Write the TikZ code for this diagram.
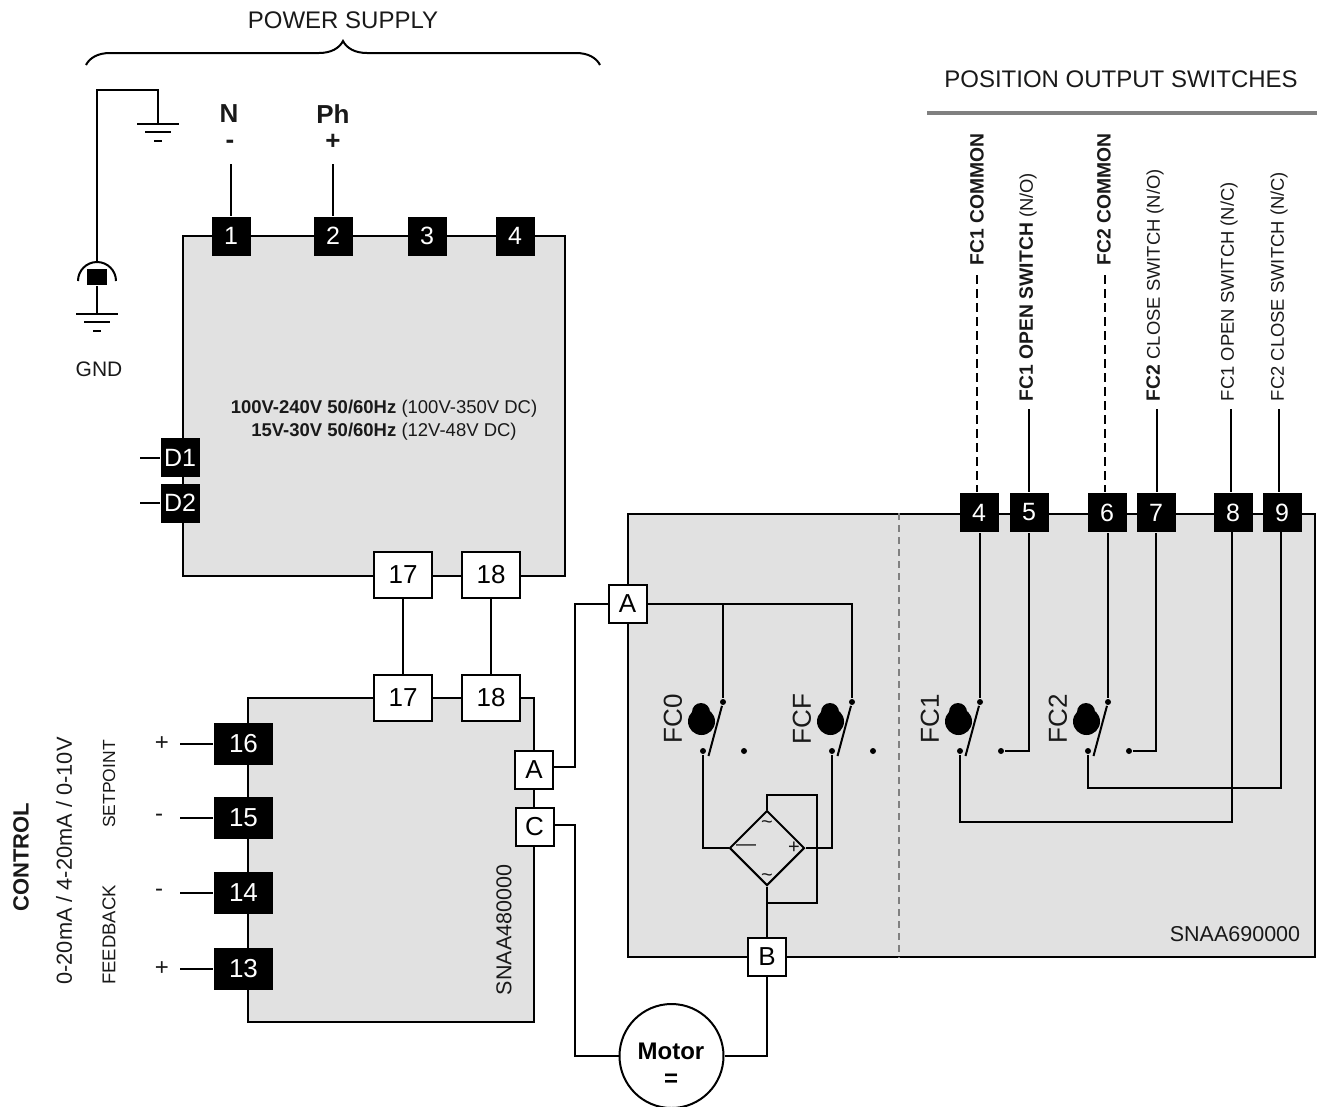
\documentclass[tikz,border=0pt]{standalone}
\usepackage{fontspec}
\setmainfont{Liberation Sans}
\usetikzlibrary{shapes.geometric, decorations.pathreplacing}
\definecolor{panelgray}{HTML}{E1E1E1}
\definecolor{rulegray}{HTML}{808080}
\newcommand{\sz}[1]{\fontsize{#1}{#1}\selectfont}
\newcommand{\boldpart}[1]{{\sz{19.3}\bfseries #1}}

\begin{document}
\begin{tikzpicture}[
    x=1pt, y=-1pt,
    line width=2pt,
    panel/.style={rectangle, draw, fill=panelgray},
    blackterm/.style={rectangle, fill=black, text=white, inner sep=0pt, minimum size=39pt, font=\sz{25}},
    wideterm/.style={rectangle, fill=black, text=white, inner sep=0pt, minimum width=59pt, minimum height=42pt, font=\sz{26}},
    whiteterm/.style={rectangle, draw, fill=white, inner sep=0pt, minimum width=58pt, minimum height=46pt, font=\sz{26}},
    letterterm/.style={rectangle, draw, fill=white, inner sep=0pt, minimum size=38pt, font=\sz{26}},
    contact/.style={circle, fill=black, inner sep=0pt, minimum size=6pt},
    txt/.style={inner sep=0pt, text=black!90, font=\sz{#1}},
    side/.style={inner sep=0pt, rotate=90, anchor=west, text=black!90, font=\sz{18.4}},
    upright/.style={inner sep=0pt, rotate=90, text=black!90, font=\sz{#1}},
    bar/.style={line width=2pt}
]
    \useasboundingbox (0,0) rectangle (1317,1106);

    % Grey panels
    \node[panel, minimum width=382pt, minimum height=340pt, inner sep=0pt] (supply) at (374,406) {};
    \node[panel, minimum width=286pt, minimum height=324pt, inner sep=0pt] (drive) at (391,860) {};
    \node[panel, minimum width=687pt, minimum height=443pt, inner sep=0pt] (limits) at (971.5,735.5) {};
    \draw[rulegray, dash pattern=on 7pt off 5pt] (limits.north -| 899,0) -- (limits.south -| 899,0);

    % Power supply brace and titles
    \coordinate (braceL) at (86,65);
    \coordinate (braceR) at (600,65);
    \draw[decorate, decoration={brace, amplitude=24pt}] (braceL) -- (braceR);
    \node[txt=24] (powertitle) at (343,20) {POWER SUPPLY};
    \node[txt=24] (switchtitle) at (1121,79) {POSITION OUTPUT SWITCHES};
    \coordinate (ruleL) at (927,113);
    \coordinate (ruleR) at (1317,113);
    \draw[rulegray, line width=4pt] (ruleL) -- (ruleR);

    % Earth and plug
    \coordinate (plug) at (97,262);
    \coordinate (earthA) at (158,124);
    \coordinate (earthB) at (97,314);
    \draw (plug) -- (97,90) -| (earthA);
    \draw (78,281) arc[start angle=180, end angle=0, radius=19pt];
    \node[rectangle, fill=black, inner sep=0pt, minimum width=20pt, minimum height=16pt] (plugpin) at (97,277) {};
    \draw (plugpin.south) -- (earthB);
    \foreach \ex/\ey in {158/124, 97/314} {
        \draw[bar] (\ex-21,\ey) -- (\ex+21,\ey);
        \draw[bar] (\ex-13,\ey+8) -- (\ex+13,\ey+8);
        \draw[bar] (\ex-4,\ey+17) -- (\ex+4,\ey+17);
    }
    \node[txt=21] (gnd) at (99,369) {GND};

    % Supply terminals
    \foreach \n/\x in {1/231, 2/333, 3/427, 4/515} {
        \node[blackterm] (s\n) at (\x,236) {\n};
    }
    \node[blackterm] (d1) at (180,457.5) {D1};
    \node[blackterm] (d2) at (180,503) {D2};
    \node[whiteterm] (a17) at (403,575) {17};
    \node[whiteterm] (a18) at (491,575) {18};

    % Mains labels
    \node[txt=26, font=\sz{26}\bfseries] (neutral) at (229,114) {N};
    \node[txt=26, font=\sz{26}\bfseries] (phase) at (333,114) {Ph};
    \node[txt=26, font=\sz{26}\bfseries] (minus) at (230,144) {-};
    \node[txt=26, font=\sz{26}\bfseries] (plus) at (333,142) {+};
    \coordinate (nEnd) at (231,164);
    \coordinate (phEnd) at (333,164);
    \draw (nEnd) -- (s1.north);
    \draw (phEnd) -- (s2.north);
    \coordinate (d1End) at (140,457.5);
    \coordinate (d2End) at (140,503);
    \draw (d1End) -- (d1.west);
    \draw (d2End) -- (d2.west);

    \node[inner sep=0pt, align=center, text=black!90, font=\fontsize{18.5}{23}\selectfont] (rating) at (384,420)
        {\textbf{100V-240V 50/60Hz} (100V-350V DC)\\\textbf{15V-30V 50/60Hz} (12V-48V DC)};

    % Control terminals
    \node[whiteterm] (b17) at (403,698) {17};
    \node[whiteterm] (b18) at (491,698) {18};
    \draw (a17.south) -- (b17.north);
    \draw (a18.south) -- (b18.north);
    \foreach \n/\y/\sign/\sx in {16/744/+/162, 15/818/-/159, 14/893/-/159, 13/969/+/162} {
        \node[wideterm] (c\n) at (243.5,\y) {\n};
        \node[txt=24] (sign\n) at (\sx,\y) {\sign};
        \coordinate (lead\n) at (180,\y);
        \draw (lead\n) -- (c\n.west);
    }
    \node[letterterm] (pa) at (534,770) {A};
    \node[letterterm] (pc) at (534.5,827) {C};
    \node[letterterm] (qa) at (627.5,603.5) {A};
    \node[letterterm] (qb) at (767,957) {B};
    \draw (pa.east |- 0,767) -- (575,767) |- (qa.west);

    % Control side labels
    \node[upright=22, font=\sz{22}\bfseries] (control) at (21,857) {CONTROL};
    \node[upright=21.8] (range) at (64,861) {0-20mA / 4-20mA / 0-10V};
    \node[upright=17.5] (setpoint) at (109,784) {SETPOINT};
    \node[upright=18.5] (feedback) at (109,935) {FEEDBACK};
    \node[upright=21.5] (drivecode) at (504,930) {SNAA480000};
    \node[txt=21.5] (limitcode) at (1235,934) {SNAA690000};

    % Output terminals
    \foreach \n/\x in {4/979, 5/1029, 6/1107, 7/1156, 8/1233, 9/1282} {
        \node[blackterm] (r\n) at (\x,512.5) {\n};
    }
    \node[side] (out4) at (977,266) {\boldpart{FC1 COMMON}};
    \node[side] (out5) at (1028,402) {\boldpart{FC1 OPEN SWITCH} (N/O)};
    \node[side] (out6) at (1104,266) {\boldpart{FC2 COMMON}};
    \node[side] (out7) at (1155,402) {\boldpart{FC2} CLOSE SWITCH (N/O)};
    \node[side] (out8) at (1229,402) {FC1 OPEN SWITCH (N/C)};
    \node[side] (out9) at (1279,402) {FC2 CLOSE SWITCH (N/C)};
    \coordinate (end4) at (977,275);
    \coordinate (end5) at (1029,409);
    \coordinate (end6) at (1105,275);
    \coordinate (end7) at (1157,409);
    \coordinate (end8) at (1231,409);
    \coordinate (end9) at (1279,409);
    \draw[dash pattern=on 9pt off 5pt] (end4) -- (end4 |- r4.north);
    \draw[dash pattern=on 9pt off 5pt] (end6) -- (end6 |- r6.north);
    \foreach \n in {5,7,8,9} {
        \draw (end\n) -- (end\n |- r\n.north);
    }

    % Switches
    \foreach \i/\x/\lbl in {0/723/FC0, 1/852/FCF, 2/980/FC1, 3/1108/FC2} {
        \node[contact] (top\i) at (\x,702) {};
        \node[contact] (nc\i) at (\x-20,751) {};
        \node[contact] (no\i) at (\x+21,751) {};
        \coordinate (arm\i) at (\x-14.5,756);
        \draw (top\i) -- (arm\i);
        \fill (\x-21.5,721.5) circle[radius=13.5pt];
        \fill (\x-22,712) circle[radius=9pt];
        \node[upright=26] (name\i) at (\x-50,719) {\lbl};
    }

    % Wiring inside the limit switch box
    \draw (qa.east) -| (top1);
    \draw (top0 |- qa.east) -- (top0);
    \draw (top2 |- r4.south) -- (top2);
    \draw (top3 |- r6.south) -- (top3);
    \draw (no2) -| (r5.south);
    \draw (no3) -| (r7.south);
    \draw (nc2) |- (1232,822) -- (1232,532);
    \draw (nc3) |- (1281,788) -- (1281,532);

    % Rectifier
    \node[diamond, draw, aspect=1, inner sep=0pt, minimum size=75pt] (bridge) at (767,848) {};
    \node[txt=20] (acup) at (767,825) {\textasciitilde};
    \node[txt=20] (acdown) at (767,878) {\textasciitilde};
    \node[txt=20] (dcminus) at (746,848) {—};
    \node[txt=20] (dcplus) at (794,848) {+};
    \draw (nc0) |- (bridge.west);
    \draw (nc1) |- (bridge.east);
    \draw (bridge.north) -- (767,795) -| (817,903) -- (767,903);
    \draw (bridge.south) -- (qb.north);

    % Motor
    \node[circle, draw, fill=white, inner sep=0pt, minimum size=104pt] (motor) at (671.5,1056) {};
    \node[inner sep=0pt, align=center, font=\fontsize{24}{27}\selectfont\bfseries] (motortxt) at (671,1065) {Motor\\=};
    \draw (pc.east |- 0,825) -- (575,825) |- (motor.west);
    \draw (qb.south) |- (motor.east);
\end{tikzpicture}
\end{document}
